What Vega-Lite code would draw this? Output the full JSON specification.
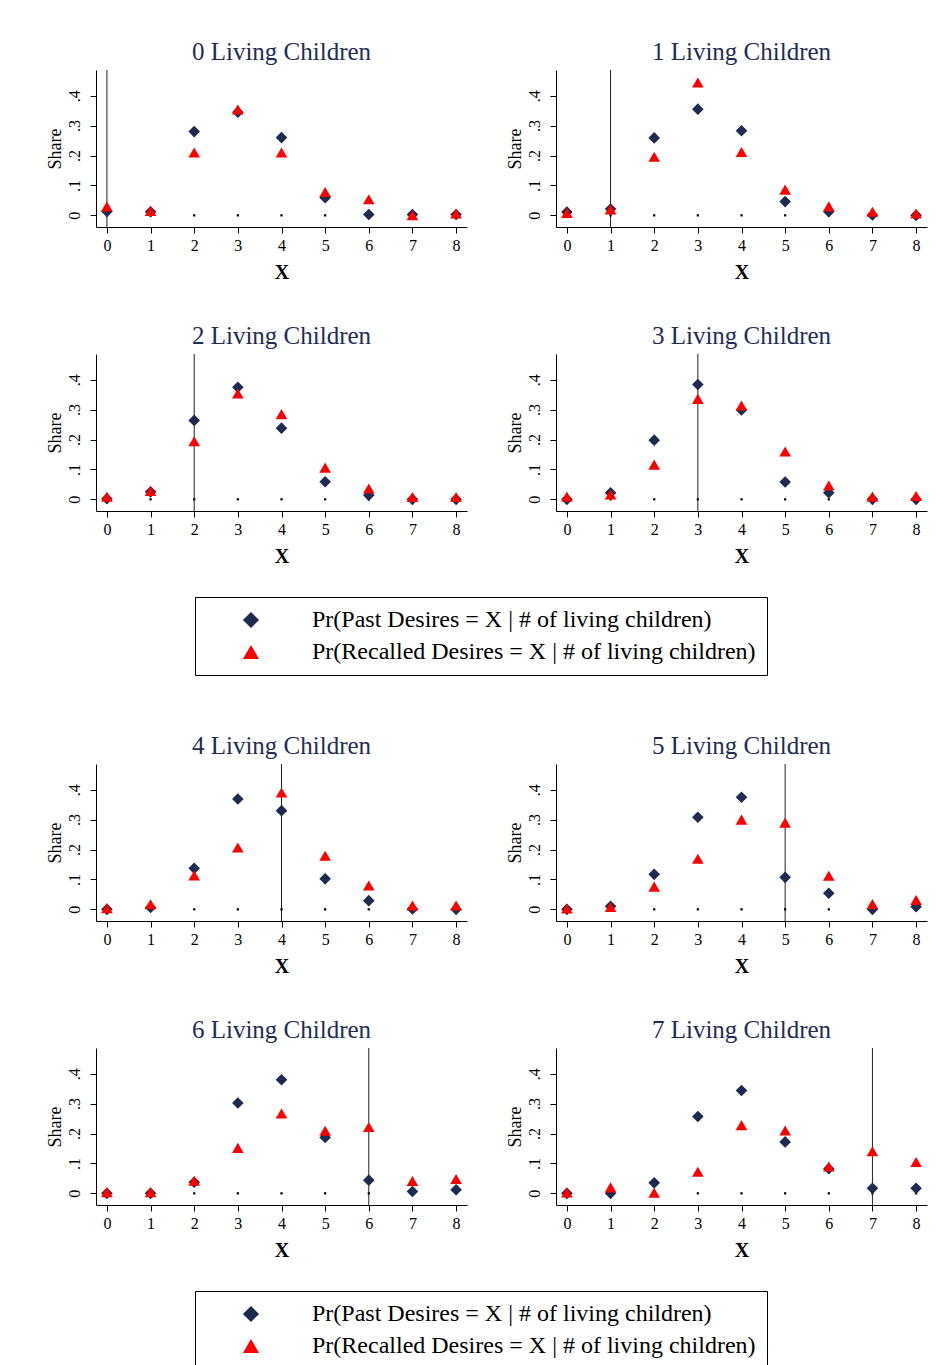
{
  "$schema": "https://vega.github.io/schema/vega-lite/v6.json",
  "background": "white",
  "padding": {"left": 46, "top": 39, "right": 5, "bottom": 5},
  "config": {
    "font": "Liberation Serif",
    "view": {"stroke": null},
    "title": {"font": "Liberation Serif", "fontSize": 25, "fontWeight": "normal", "color": "#1f2d55", "anchor": "middle", "offset": 5},
    "axis": {
      "labelFont": "Liberation Serif", "titleFont": "Liberation Serif",
      "labelFontSize": 16, "titleFontSize": 18, "titleFontWeight": "normal",
      "labelColor": "black", "titleColor": "black", "labelOverlap": false,
      "domainColor": "black", "domainWidth": 1, "tickColor": "black", "tickSize": 6, "tickWidth": 1
    },
    "axisX": {"grid": false, "labelPadding": 4, "titlePadding": 9, "titleFontSize": 20, "titleFontWeight": "bold"},
    "axisY": {"gridColor": "#e6eef1", "gridWidth": 1.5, "labelAngle": -90, "labelPadding": 8, "titlePadding": 2, "labelOverlap": false}
  },
  "datasets": {
    "shares": [
      {"n": 0, "x": 0, "Past": 0.013, "Recalled": 0.030}, {"n": 0, "x": 1, "Past": 0.012, "Recalled": 0.015},
      {"n": 0, "x": 2, "Past": 0.280, "Recalled": 0.210}, {"n": 0, "x": 3, "Past": 0.345, "Recalled": 0.354},
      {"n": 0, "x": 4, "Past": 0.260, "Recalled": 0.210}, {"n": 0, "x": 5, "Past": 0.059, "Recalled": 0.078},
      {"n": 0, "x": 6, "Past": 0.003, "Recalled": 0.054}, {"n": 0, "x": 7, "Past": 0.003, "Recalled": 0.000},
      {"n": 0, "x": 8, "Past": 0.003, "Recalled": 0.006},
      {"n": 1, "x": 0, "Past": 0.011, "Recalled": 0.008}, {"n": 1, "x": 1, "Past": 0.021, "Recalled": 0.020},
      {"n": 1, "x": 2, "Past": 0.259, "Recalled": 0.196}, {"n": 1, "x": 3, "Past": 0.355, "Recalled": 0.444},
      {"n": 1, "x": 4, "Past": 0.283, "Recalled": 0.212}, {"n": 1, "x": 5, "Past": 0.046, "Recalled": 0.086},
      {"n": 1, "x": 6, "Past": 0.012, "Recalled": 0.030}, {"n": 1, "x": 7, "Past": 0.001, "Recalled": 0.012},
      {"n": 1, "x": 8, "Past": 0.000, "Recalled": 0.006},
      {"n": 2, "x": 0, "Past": 0.002, "Recalled": 0.009}, {"n": 2, "x": 1, "Past": 0.025, "Recalled": 0.028},
      {"n": 2, "x": 2, "Past": 0.264, "Recalled": 0.194}, {"n": 2, "x": 3, "Past": 0.375, "Recalled": 0.354},
      {"n": 2, "x": 4, "Past": 0.238, "Recalled": 0.285}, {"n": 2, "x": 5, "Past": 0.059, "Recalled": 0.106},
      {"n": 2, "x": 6, "Past": 0.014, "Recalled": 0.036}, {"n": 2, "x": 7, "Past": 0.000, "Recalled": 0.008},
      {"n": 2, "x": 8, "Past": 0.000, "Recalled": 0.008},
      {"n": 3, "x": 0, "Past": 0.000, "Recalled": 0.009}, {"n": 3, "x": 1, "Past": 0.022, "Recalled": 0.016},
      {"n": 3, "x": 2, "Past": 0.198, "Recalled": 0.116}, {"n": 3, "x": 3, "Past": 0.384, "Recalled": 0.336},
      {"n": 3, "x": 4, "Past": 0.299, "Recalled": 0.314}, {"n": 3, "x": 5, "Past": 0.058, "Recalled": 0.160},
      {"n": 3, "x": 6, "Past": 0.022, "Recalled": 0.046}, {"n": 3, "x": 7, "Past": 0.000, "Recalled": 0.009},
      {"n": 3, "x": 8, "Past": 0.000, "Recalled": 0.011},
      {"n": 4, "x": 0, "Past": 0.000, "Recalled": 0.004}, {"n": 4, "x": 1, "Past": 0.006, "Recalled": 0.017},
      {"n": 4, "x": 2, "Past": 0.137, "Recalled": 0.113}, {"n": 4, "x": 3, "Past": 0.369, "Recalled": 0.207},
      {"n": 4, "x": 4, "Past": 0.330, "Recalled": 0.391}, {"n": 4, "x": 5, "Past": 0.102, "Recalled": 0.179},
      {"n": 4, "x": 6, "Past": 0.029, "Recalled": 0.080}, {"n": 4, "x": 7, "Past": 0.001, "Recalled": 0.013},
      {"n": 4, "x": 8, "Past": 0.000, "Recalled": 0.013},
      {"n": 5, "x": 0, "Past": 0.000, "Recalled": 0.003}, {"n": 5, "x": 1, "Past": 0.010, "Recalled": 0.008},
      {"n": 5, "x": 2, "Past": 0.117, "Recalled": 0.076}, {"n": 5, "x": 3, "Past": 0.308, "Recalled": 0.169},
      {"n": 5, "x": 4, "Past": 0.375, "Recalled": 0.300}, {"n": 5, "x": 5, "Past": 0.107, "Recalled": 0.290},
      {"n": 5, "x": 6, "Past": 0.054, "Recalled": 0.112}, {"n": 5, "x": 7, "Past": 0.000, "Recalled": 0.018},
      {"n": 5, "x": 8, "Past": 0.009, "Recalled": 0.031},
      {"n": 6, "x": 0, "Past": 0.000, "Recalled": 0.004}, {"n": 6, "x": 1, "Past": 0.000, "Recalled": 0.004},
      {"n": 6, "x": 2, "Past": 0.037, "Recalled": 0.042}, {"n": 6, "x": 3, "Past": 0.302, "Recalled": 0.152},
      {"n": 6, "x": 4, "Past": 0.380, "Recalled": 0.267}, {"n": 6, "x": 5, "Past": 0.187, "Recalled": 0.209},
      {"n": 6, "x": 6, "Past": 0.044, "Recalled": 0.222}, {"n": 6, "x": 7, "Past": 0.006, "Recalled": 0.041},
      {"n": 6, "x": 8, "Past": 0.012, "Recalled": 0.048},
      {"n": 7, "x": 0, "Past": 0.000, "Recalled": 0.003}, {"n": 7, "x": 1, "Past": 0.000, "Recalled": 0.020},
      {"n": 7, "x": 2, "Past": 0.035, "Recalled": 0.002}, {"n": 7, "x": 3, "Past": 0.257, "Recalled": 0.072},
      {"n": 7, "x": 4, "Past": 0.344, "Recalled": 0.228}, {"n": 7, "x": 5, "Past": 0.172, "Recalled": 0.210},
      {"n": 7, "x": 6, "Past": 0.082, "Recalled": 0.090}, {"n": 7, "x": 7, "Past": 0.017, "Recalled": 0.141},
      {"n": 7, "x": 8, "Past": 0.017, "Recalled": 0.105}
    ]
  },
  "data": {"name": "shares"},
  "spacing": 57,
  "resolve": {"legend": {"shape": "independent", "color": "independent"}},
  "vconcat": [
    {
      "spacing": 41,
      "resolve": {"legend": {"shape": "independent", "color": "independent"}},
      "vconcat": [
        {
          "bounds": "flush",
          "spacing": 89,
          "resolve": {"legend": {"shape": "independent", "color": "independent"}},
          "hconcat": [
            {
              "width": 371, "height": 157,
              "title": "0 Living Children",
              "transform": [{"filter": "datum.n == 0"}],
              "encoding": {
                "x": {"field": "x", "type": "quantitative", "scale": {"domain": [-0.25, 8.25], "nice": false, "zero": false}, "axis": {"values": [0, 1, 2, 3, 4, 5, 6, 7, 8], "title": "X"}}
              },
              "layer": [
                {"transform": [{"filter": "datum.x == datum.n"}], "mark": {"type": "rule", "color": "#222222", "strokeWidth": 1}, "encoding": {}},
                {"mark": {"type": "square", "size": 5, "color": "black", "opacity": 1}, "encoding": {"y": {"datum": 0, "type": "quantitative"}}},
                {"transform": [{"fold": ["Past", "Recalled"], "as": ["series", "share"]}], "mark": {"type": "point", "filled": true, "opacity": 1, "size": 135}, "encoding": {
                  "y": {"field": "share", "type": "quantitative", "scale": {"domain": [-0.039, 0.486], "nice": false, "zero": false}, "axis": {"values": [0, 0.1, 0.2, 0.3, 0.4], "tickCount": 5, "title": "Share", "labelOverlap": false, "labelExpr": "datum.value == 0 ? '0' : replace(format(datum.value, '.1f'), '0.', '.')"}},
                  "shape": {"field": "series", "type": "nominal", "scale": {"domain": ["Past", "Recalled"], "range": ["diamond", "triangle-up"]}, "legend": null},
                  "color": {"field": "series", "type": "nominal", "scale": {"domain": ["Past", "Recalled"], "range": ["#1c2b4f", "#ff0000"]}, "legend": null}
                }}
              ]
            },
            {
              "width": 371, "height": 157,
              "title": "1 Living Children",
              "transform": [{"filter": "datum.n == 1"}],
              "encoding": {
                "x": {"field": "x", "type": "quantitative", "scale": {"domain": [-0.25, 8.25], "nice": false, "zero": false}, "axis": {"values": [0, 1, 2, 3, 4, 5, 6, 7, 8], "title": "X"}}
              },
              "layer": [
                {"transform": [{"filter": "datum.x == datum.n"}], "mark": {"type": "rule", "color": "#222222", "strokeWidth": 1}, "encoding": {}},
                {"mark": {"type": "square", "size": 5, "color": "black", "opacity": 1}, "encoding": {"y": {"datum": 0, "type": "quantitative"}}},
                {"transform": [{"fold": ["Past", "Recalled"], "as": ["series", "share"]}], "mark": {"type": "point", "filled": true, "opacity": 1, "size": 135}, "encoding": {
                  "y": {"field": "share", "type": "quantitative", "scale": {"domain": [-0.039, 0.486], "nice": false, "zero": false}, "axis": {"values": [0, 0.1, 0.2, 0.3, 0.4], "tickCount": 5, "title": "Share", "labelOverlap": false, "labelExpr": "datum.value == 0 ? '0' : replace(format(datum.value, '.1f'), '0.', '.')"}},
                  "shape": {"field": "series", "type": "nominal", "scale": {"domain": ["Past", "Recalled"], "range": ["diamond", "triangle-up"]}, "legend": null},
                  "color": {"field": "series", "type": "nominal", "scale": {"domain": ["Past", "Recalled"], "range": ["#1c2b4f", "#ff0000"]}, "legend": null}
                }}
              ]
            }
          ]
        },
        {
          "bounds": "flush",
          "spacing": 89,
          "resolve": {"legend": {"shape": "independent", "color": "independent"}},
          "hconcat": [
            {
              "width": 371, "height": 157,
              "title": "2 Living Children",
              "transform": [{"filter": "datum.n == 2"}],
              "encoding": {
                "x": {"field": "x", "type": "quantitative", "scale": {"domain": [-0.25, 8.25], "nice": false, "zero": false}, "axis": {"values": [0, 1, 2, 3, 4, 5, 6, 7, 8], "title": "X"}}
              },
              "layer": [
                {"transform": [{"filter": "datum.x == datum.n"}], "mark": {"type": "rule", "color": "#222222", "strokeWidth": 1}, "encoding": {}},
                {"mark": {"type": "square", "size": 5, "color": "black", "opacity": 1}, "encoding": {"y": {"datum": 0, "type": "quantitative"}}},
                {"transform": [{"fold": ["Past", "Recalled"], "as": ["series", "share"]}], "mark": {"type": "point", "filled": true, "opacity": 1, "size": 135}, "encoding": {
                  "y": {"field": "share", "type": "quantitative", "scale": {"domain": [-0.039, 0.486], "nice": false, "zero": false}, "axis": {"values": [0, 0.1, 0.2, 0.3, 0.4], "tickCount": 5, "title": "Share", "labelOverlap": false, "labelExpr": "datum.value == 0 ? '0' : replace(format(datum.value, '.1f'), '0.', '.')"}},
                  "shape": {"field": "series", "type": "nominal", "scale": {"domain": ["Past", "Recalled"], "range": ["diamond", "triangle-up"]}, "legend": {"orient": "none", "legendX": 99, "legendY": 243, "title": null, "labelExpr": "'Pr(' + datum.label + ' Desires = X | # of living children)'", "labelFont": "Liberation Serif", "labelFontSize": 24, "labelColor": "black", "labelLimit": 1000, "labelOffset": 49, "symbolOffset": 33, "symbolSize": 260, "symbolStrokeWidth": 0, "rowPadding": 8, "padding": 11, "strokeColor": "black", "fillColor": "white"}},
                  "color": {"field": "series", "type": "nominal", "scale": {"domain": ["Past", "Recalled"], "range": ["#1c2b4f", "#ff0000"]}, "legend": {"orient": "none", "legendX": 99, "legendY": 243, "title": null, "labelExpr": "'Pr(' + datum.label + ' Desires = X | # of living children)'", "labelFont": "Liberation Serif", "labelFontSize": 24, "labelColor": "black", "labelLimit": 1000, "labelOffset": 49, "symbolOffset": 33, "symbolSize": 260, "symbolStrokeWidth": 0, "rowPadding": 8, "padding": 11, "strokeColor": "black", "fillColor": "white"}}
                }}
              ]
            },
            {
              "width": 371, "height": 157,
              "title": "3 Living Children",
              "transform": [{"filter": "datum.n == 3"}],
              "encoding": {
                "x": {"field": "x", "type": "quantitative", "scale": {"domain": [-0.25, 8.25], "nice": false, "zero": false}, "axis": {"values": [0, 1, 2, 3, 4, 5, 6, 7, 8], "title": "X"}}
              },
              "layer": [
                {"transform": [{"filter": "datum.x == datum.n"}], "mark": {"type": "rule", "color": "#222222", "strokeWidth": 1}, "encoding": {}},
                {"mark": {"type": "square", "size": 5, "color": "black", "opacity": 1}, "encoding": {"y": {"datum": 0, "type": "quantitative"}}},
                {"transform": [{"fold": ["Past", "Recalled"], "as": ["series", "share"]}], "mark": {"type": "point", "filled": true, "opacity": 1, "size": 135}, "encoding": {
                  "y": {"field": "share", "type": "quantitative", "scale": {"domain": [-0.039, 0.486], "nice": false, "zero": false}, "axis": {"values": [0, 0.1, 0.2, 0.3, 0.4], "tickCount": 5, "title": "Share", "labelOverlap": false, "labelExpr": "datum.value == 0 ? '0' : replace(format(datum.value, '.1f'), '0.', '.')"}},
                  "shape": {"field": "series", "type": "nominal", "scale": {"domain": ["Past", "Recalled"], "range": ["diamond", "triangle-up"]}, "legend": null},
                  "color": {"field": "series", "type": "nominal", "scale": {"domain": ["Past", "Recalled"], "range": ["#1c2b4f", "#ff0000"]}, "legend": null}
                }}
              ]
            }
          ]
        }
      ]
    },
    {
      "spacing": 41,
      "resolve": {"legend": {"shape": "independent", "color": "independent"}},
      "vconcat": [
        {
          "bounds": "flush",
          "spacing": 89,
          "resolve": {"legend": {"shape": "independent", "color": "independent"}},
          "hconcat": [
            {
              "width": 371, "height": 157,
              "title": "4 Living Children",
              "transform": [{"filter": "datum.n == 4"}],
              "encoding": {
                "x": {"field": "x", "type": "quantitative", "scale": {"domain": [-0.25, 8.25], "nice": false, "zero": false}, "axis": {"values": [0, 1, 2, 3, 4, 5, 6, 7, 8], "title": "X"}}
              },
              "layer": [
                {"transform": [{"filter": "datum.x == datum.n"}], "mark": {"type": "rule", "color": "#222222", "strokeWidth": 1}, "encoding": {}},
                {"mark": {"type": "square", "size": 5, "color": "black", "opacity": 1}, "encoding": {"y": {"datum": 0, "type": "quantitative"}}},
                {"transform": [{"fold": ["Past", "Recalled"], "as": ["series", "share"]}], "mark": {"type": "point", "filled": true, "opacity": 1, "size": 135}, "encoding": {
                  "y": {"field": "share", "type": "quantitative", "scale": {"domain": [-0.039, 0.486], "nice": false, "zero": false}, "axis": {"values": [0, 0.1, 0.2, 0.3, 0.4], "tickCount": 5, "title": "Share", "labelOverlap": false, "labelExpr": "datum.value == 0 ? '0' : replace(format(datum.value, '.1f'), '0.', '.')"}},
                  "shape": {"field": "series", "type": "nominal", "scale": {"domain": ["Past", "Recalled"], "range": ["diamond", "triangle-up"]}, "legend": null},
                  "color": {"field": "series", "type": "nominal", "scale": {"domain": ["Past", "Recalled"], "range": ["#1c2b4f", "#ff0000"]}, "legend": null}
                }}
              ]
            },
            {
              "width": 371, "height": 157,
              "title": "5 Living Children",
              "transform": [{"filter": "datum.n == 5"}],
              "encoding": {
                "x": {"field": "x", "type": "quantitative", "scale": {"domain": [-0.25, 8.25], "nice": false, "zero": false}, "axis": {"values": [0, 1, 2, 3, 4, 5, 6, 7, 8], "title": "X"}}
              },
              "layer": [
                {"transform": [{"filter": "datum.x == datum.n"}], "mark": {"type": "rule", "color": "#222222", "strokeWidth": 1}, "encoding": {}},
                {"mark": {"type": "square", "size": 5, "color": "black", "opacity": 1}, "encoding": {"y": {"datum": 0, "type": "quantitative"}}},
                {"transform": [{"fold": ["Past", "Recalled"], "as": ["series", "share"]}], "mark": {"type": "point", "filled": true, "opacity": 1, "size": 135}, "encoding": {
                  "y": {"field": "share", "type": "quantitative", "scale": {"domain": [-0.039, 0.486], "nice": false, "zero": false}, "axis": {"values": [0, 0.1, 0.2, 0.3, 0.4], "tickCount": 5, "title": "Share", "labelOverlap": false, "labelExpr": "datum.value == 0 ? '0' : replace(format(datum.value, '.1f'), '0.', '.')"}},
                  "shape": {"field": "series", "type": "nominal", "scale": {"domain": ["Past", "Recalled"], "range": ["diamond", "triangle-up"]}, "legend": null},
                  "color": {"field": "series", "type": "nominal", "scale": {"domain": ["Past", "Recalled"], "range": ["#1c2b4f", "#ff0000"]}, "legend": null}
                }}
              ]
            }
          ]
        },
        {
          "bounds": "flush",
          "spacing": 89,
          "resolve": {"legend": {"shape": "independent", "color": "independent"}},
          "hconcat": [
            {
              "width": 371, "height": 157,
              "title": "6 Living Children",
              "transform": [{"filter": "datum.n == 6"}],
              "encoding": {
                "x": {"field": "x", "type": "quantitative", "scale": {"domain": [-0.25, 8.25], "nice": false, "zero": false}, "axis": {"values": [0, 1, 2, 3, 4, 5, 6, 7, 8], "title": "X"}}
              },
              "layer": [
                {"transform": [{"filter": "datum.x == datum.n"}], "mark": {"type": "rule", "color": "#222222", "strokeWidth": 1}, "encoding": {}},
                {"mark": {"type": "square", "size": 5, "color": "black", "opacity": 1}, "encoding": {"y": {"datum": 0, "type": "quantitative"}}},
                {"transform": [{"fold": ["Past", "Recalled"], "as": ["series", "share"]}], "mark": {"type": "point", "filled": true, "opacity": 1, "size": 135}, "encoding": {
                  "y": {"field": "share", "type": "quantitative", "scale": {"domain": [-0.039, 0.486], "nice": false, "zero": false}, "axis": {"values": [0, 0.1, 0.2, 0.3, 0.4], "tickCount": 5, "title": "Share", "labelOverlap": false, "labelExpr": "datum.value == 0 ? '0' : replace(format(datum.value, '.1f'), '0.', '.')"}},
                  "shape": {"field": "series", "type": "nominal", "scale": {"domain": ["Past", "Recalled"], "range": ["diamond", "triangle-up"]}, "legend": {"orient": "none", "legendX": 99, "legendY": 243, "title": null, "labelExpr": "'Pr(' + datum.label + ' Desires = X | # of living children)'", "labelFont": "Liberation Serif", "labelFontSize": 24, "labelColor": "black", "labelLimit": 1000, "labelOffset": 49, "symbolOffset": 33, "symbolSize": 260, "symbolStrokeWidth": 0, "rowPadding": 8, "padding": 11, "strokeColor": "black", "fillColor": "white"}},
                  "color": {"field": "series", "type": "nominal", "scale": {"domain": ["Past", "Recalled"], "range": ["#1c2b4f", "#ff0000"]}, "legend": {"orient": "none", "legendX": 99, "legendY": 243, "title": null, "labelExpr": "'Pr(' + datum.label + ' Desires = X | # of living children)'", "labelFont": "Liberation Serif", "labelFontSize": 24, "labelColor": "black", "labelLimit": 1000, "labelOffset": 49, "symbolOffset": 33, "symbolSize": 260, "symbolStrokeWidth": 0, "rowPadding": 8, "padding": 11, "strokeColor": "black", "fillColor": "white"}}
                }}
              ]
            },
            {
              "width": 371, "height": 157,
              "title": "7 Living Children",
              "transform": [{"filter": "datum.n == 7"}],
              "encoding": {
                "x": {"field": "x", "type": "quantitative", "scale": {"domain": [-0.25, 8.25], "nice": false, "zero": false}, "axis": {"values": [0, 1, 2, 3, 4, 5, 6, 7, 8], "title": "X"}}
              },
              "layer": [
                {"transform": [{"filter": "datum.x == datum.n"}], "mark": {"type": "rule", "color": "#222222", "strokeWidth": 1}, "encoding": {}},
                {"mark": {"type": "square", "size": 5, "color": "black", "opacity": 1}, "encoding": {"y": {"datum": 0, "type": "quantitative"}}},
                {"transform": [{"fold": ["Past", "Recalled"], "as": ["series", "share"]}], "mark": {"type": "point", "filled": true, "opacity": 1, "size": 135}, "encoding": {
                  "y": {"field": "share", "type": "quantitative", "scale": {"domain": [-0.039, 0.486], "nice": false, "zero": false}, "axis": {"values": [0, 0.1, 0.2, 0.3, 0.4], "tickCount": 5, "title": "Share", "labelOverlap": false, "labelExpr": "datum.value == 0 ? '0' : replace(format(datum.value, '.1f'), '0.', '.')"}},
                  "shape": {"field": "series", "type": "nominal", "scale": {"domain": ["Past", "Recalled"], "range": ["diamond", "triangle-up"]}, "legend": null},
                  "color": {"field": "series", "type": "nominal", "scale": {"domain": ["Past", "Recalled"], "range": ["#1c2b4f", "#ff0000"]}, "legend": null}
                }}
              ]
            }
          ]
        }
      ]
    }
  ]
}
